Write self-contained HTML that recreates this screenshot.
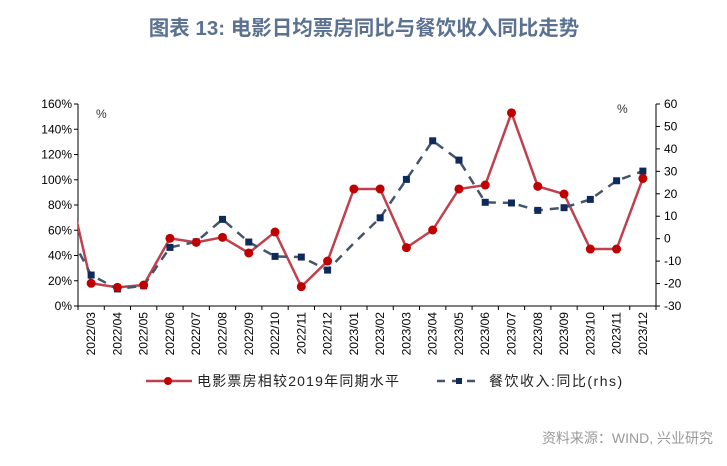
<!DOCTYPE html>
<html><head><meta charset="utf-8"><style>
body{margin:0;background:#fff;width:727px;height:461px;overflow:hidden;font-family:"Liberation Sans","Noto Sans CJK SC",sans-serif}
</style></head><body>
<svg width="727" height="461" xmlns="http://www.w3.org/2000/svg">
<text x="364" y="35" text-anchor="middle" font-size="20.5" font-weight="bold" fill="#5a7191" font-family="Liberation Sans, Noto Sans CJK SC, sans-serif">图表 13: 电影日均票房同比与餐饮收入同比走势</text>
<g id="axes"></g>
<defs><clipPath id="pc"><rect x="78" y="95" width="578" height="212"/></clipPath></defs>
<g id="series" clip-path="url(#pc)"></g>
<g id="marks"></g>
<text x="96" y="118" font-size="12" fill="#333">%</text>
<text x="617" y="113" font-size="12" fill="#333">%</text>
<g>
<g>
<line x1="146" y1="381" x2="192" y2="381" stroke="#c0404d" stroke-width="2.5"/>
<circle cx="168" cy="381" r="4" fill="#c00000"/>
<text x="197" y="386" font-size="14" letter-spacing="1.2" fill="#222">电影票房相较2019年同期水平</text></g>
<g>
<line x1="437" y1="381" x2="482" y2="381" stroke="#44546a" stroke-width="2.5" stroke-dasharray="8,7"/>
<rect x="456" y="378" width="6" height="6" fill="#0e2a5c"/>
<text x="489" y="386" font-size="14" letter-spacing="1.5" fill="#222">餐饮收入:同比(rhs)</text></g>
</g>
<text x="713" y="443" text-anchor="end" font-size="14" fill="#999">资料来源：WIND, 兴业研究</text>
</svg>
<script>
const categories=["2022/02","2022/03","2022/04","2022/05","2022/06","2022/07","2022/08","2022/09","2022/10","2022/11","2022/12","2023/01","2023/02","2023/03","2023/04","2023/05","2023/06","2023/07","2023/08","2023/09","2023/10","2023/11","2023/12"];
const boxOffice=[108,18,14.8,16.6,53.6,50.4,54.4,42,58.6,15.3,35.6,92.7,92.7,46.2,60.2,92.7,95.8,153,94.8,88.7,45.1,45.1,101];
const catering=[6,-16.2,-22.4,-21,-3.9,-1.4,8.6,-1.5,-7.9,-8.2,-14,-2,9.3,26.4,43.6,35,16.2,15.9,12.6,13.8,17.5,25.8,30.1];
const leftTicks=[0,20,40,60,80,100,120,140,160];
const rightTicks=[-30,-20,-10,0,10,20,30,40,50,60];
const NS="http://www.w3.org/2000/svg";
const X0=78,X1=656,Y0=306,Y1=104,band=(X1-X0)/22;
const xs=i=>X0+band*(i-1)+band/2;
const yl=v=>Y0-(v/160)*(Y0-Y1);
const yr=v=>Y0-((v+30)/90)*(Y0-Y1);
function mk(t,a,p){const e=document.createElementNS(NS,t);for(const k in a)e.setAttribute(k,a[k]);p.appendChild(e);return e;}
const ax=document.getElementById('axes'),sr=document.getElementById('series'),mg=document.getElementById('marks');
const la=mk('line',{x1:X0,y1:Y1,x2:X0,y2:Y0,stroke:'#000'},ax);


const ra=mk('line',{x1:X1,y1:Y1,x2:X1,y2:Y0,stroke:'#000'},ax);


const xa=mk('line',{x1:X0,y1:Y0,x2:X1,y2:Y0,stroke:'#000'},ax);


leftTicks.forEach(v=>{mk('line',{x1:X0-4,y1:yl(v),x2:X0,y2:yl(v),stroke:'#000'},ax);
const t=mk('text',{x:X0-6,y:yl(v)+4,'text-anchor':'end','font-size':12,fill:'#000'},ax);t.textContent=v+'%';

});
rightTicks.forEach(v=>{mk('line',{x1:X1,y1:yr(v),x2:X1+4,y2:yr(v),stroke:'#000'},ax);
const t=mk('text',{x:X1+8,y:yr(v)+4,'font-size':12,fill:'#000'},ax);t.textContent=v;

});
for(let i=0;i<=22;i++){mk('line',{x1:X0+band*i,y1:Y0,x2:X0+band*i,y2:Y0+4,stroke:'#000'},ax);}
for(let i=1;i<categories.length;i++){const x=xs(i)+4;
const t=mk('text',{x:x,y:Y0+6,'text-anchor':'end','font-size':12,fill:'#000',transform:`rotate(-90 ${x} ${Y0+6})`},ax);t.textContent=categories[i];

}
const p1=mk('polyline',{points:boxOffice.map((v,i)=>xs(i)+','+yl(v)).join(' '),fill:'none',stroke:'#c0404d','stroke-width':2.5},sr);


const p2=mk('polyline',{points:catering.map((v,i)=>xs(i)+','+yr(v)).join(' '),fill:'none',stroke:'#44546a','stroke-width':2.5,'stroke-dasharray':'9,7'},sr);


catering.forEach((v,i)=>{if(i===0||i===11)return;const r=mk('rect',{x:xs(i)-3.5,y:yr(v)-3.5,width:7,height:7,fill:'#0e2a5c'},mg);

});
boxOffice.forEach((v,i)=>{if(i===0)return;const c=mk('circle',{cx:xs(i),cy:yl(v),r:4.5,fill:'#c00000'},mg);

});
</script>
</body></html>
